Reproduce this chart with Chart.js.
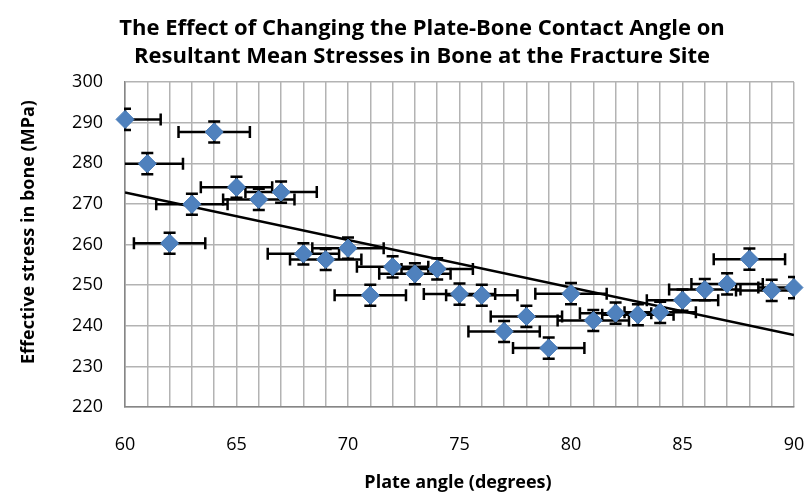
<!DOCTYPE html>
<html>
<head>
<meta charset="utf-8">
<script src="https://cdn.jsdelivr.net/npm/chart.js@4.4.1/dist/chart.umd.min.js"></script>
<style>
  html, body { margin: 0; padding: 0; background: #fff; }
  #wrap { width: 812px; height: 495px; }
</style>
</head>
<body>
<div id="wrap"><canvas id="c" width="812" height="495"></canvas></div>
<script>
// ---- data ----
const angles = [60, 61, 62, 63, 64, 65, 66, 67, 68, 69, 70, 71, 72, 73, 74, 75,
                76, 77, 78, 79, 80, 81, 82, 83, 84, 85, 86, 87, 88, 89, 90];
const stress = [290.8, 279.9, 260.3, 269.9, 287.7, 274.1, 271.1, 272.9, 257.7, 256.3, 259.1,
                247.5, 254.5, 252.8, 254.0, 247.8, 247.5, 238.6, 242.3, 234.5, 247.9,
                241.3, 243.1, 242.7, 243.3, 246.3, 248.9, 250.3, 256.4, 248.7, 249.4];
const angleErr = [1.6, 1.6, 1.6, 1.6, 1.6, 1.6, 1.6, 1.6, 1.6, 1.6, 1.6, 1.6, 1.6, 1.6, 1.6, 1.6,
                  1.6, 1.6, 1.6, 1.6, 1.6, 1.6, 1.6, 1.6, 1.6, 1.6, 1.6, 1.6, 1.6, 1.6, 1.6];
const stressErr = [2.6, 2.6, 2.6, 2.6, 2.6, 2.6, 2.6, 2.6, 2.6, 2.6, 2.6, 2.6, 2.6, 2.6, 2.6, 2.6,
                   2.6, 2.6, 2.6, 2.6, 2.6, 2.6, 2.6, 2.6, 2.6, 2.6, 2.6, 2.6, 2.6, 2.6, 2.6];
const trendAngles = [60, 90];
const trendStress = [272.8, 237.7];
const xTickLabels = ['60', '65', '70', '75', '80', '85', '90'];
const titleLines = ['The Effect of Changing the Plate-Bone Contact Angle on',
                    'Resultant Mean Stresses in Bone at the Fracture Site'];
const xTitle = 'Plate angle (degrees)';
const yTitle = 'Effective stress in bone (MPa)';

const FONT = '"Open Sans", "Liberation Sans", sans-serif';

const points = angles.map((a, i) => ({ x: a, y: stress[i] }));
const trend = trendAngles.map((a, i) => ({ x: a, y: trendStress[i] }));

const errorBars = {
  id: 'errorBars',
  afterDatasetsDraw(chart) {
    const { ctx, chartArea, scales: { x, y } } = chart;
    ctx.save();
    ctx.beginPath();
    ctx.rect(chartArea.left - 1, chartArea.top - 8, chartArea.right - chartArea.left + 2, chartArea.bottom - chartArea.top + 16);
    ctx.clip();
    ctx.strokeStyle = '#000';
    ctx.lineWidth = 2.5;
    const cap = 6;
    angles.forEach((a, i) => {
      const px = x.getPixelForValue(a), py = y.getPixelForValue(stress[i]);
      const xl = x.getPixelForValue(a - angleErr[i]), xr = x.getPixelForValue(a + angleErr[i]);
      const yt = y.getPixelForValue(stress[i] + stressErr[i]), yb = y.getPixelForValue(stress[i] - stressErr[i]);
      ctx.beginPath();
      const hl = Math.max(xl, chartArea.left), hr = Math.min(xr, chartArea.right);
      ctx.moveTo(hl, py); ctx.lineTo(hr, py);
      if (xl >= chartArea.left) { ctx.moveTo(xl, py - cap); ctx.lineTo(xl, py + cap); }
      if (xr <= chartArea.right) { ctx.moveTo(xr, py - cap); ctx.lineTo(xr, py + cap); }
      ctx.moveTo(px, yt); ctx.lineTo(px, yb);
      ctx.moveTo(px - cap, yt); ctx.lineTo(px + cap, yt);
      ctx.moveTo(px - cap, yb); ctx.lineTo(px + cap, yb);
      ctx.stroke();
    });
    ctx.restore();
    const meta = chart.getDatasetMeta(1);
    meta.data.forEach(el => el.draw(ctx, chartArea));
  }
};

const texts = {
  id: 'texts',
  afterDraw(chart) {
    const { ctx } = chart;
    ctx.save();
    ctx.fillStyle = '#000';
    ctx.textAlign = 'center';
    ctx.textBaseline = 'middle';
    ctx.font = 'bold 22px ' + FONT;
    ctx.fillText(titleLines[0], 422, 29);
    ctx.fillText(titleLines[1], 422, 57);
    ctx.font = 'bold 18px ' + FONT;
    ctx.fillText(xTitle, 458, 483);
    ctx.translate(29, 232);
    ctx.rotate(-Math.PI / 2);
    ctx.fillText(yTitle, 0, 0);
    ctx.restore();
  }
};

new Chart(document.getElementById('c'), {
  type: 'scatter',
  data: {
    datasets: [
      {
        label: 'Linear trend',
        data: trend,
        showLine: true,
        borderColor: '#000',
        borderWidth: 2.5,
        pointRadius: 0,
        fill: false,
        order: 2
      },
      {
        label: 'Mean stress',
        data: points,
        pointStyle: 'rectRot',
        pointRadius: 9,
        pointHoverRadius: 9,
        backgroundColor: '#4F81BD',
        borderColor: '#4F81BD',
        borderWidth: 1,
        order: 1
      }
    ]
  },
  options: {
    responsive: false,
    animation: false,
    events: [],
    layout: { padding: { top: 82, right: 0, left: 0, bottom: 0 } },
    plugins: { legend: { display: false }, tooltip: { enabled: false }, title: { display: false } },
    scales: {
      x: {
        type: 'linear',
        min: 60, max: 90,
        afterFit(s) { s.height = 88; s.paddingRight = 18; s.paddingLeft = 0; },
        border: { color: '#868686', width: 1.5 },
        grid: { color: '#B3B3B3', lineWidth: 1.5, drawTicks: false },
        ticks: {
          stepSize: 1, autoSkip: false, maxRotation: 0, padding: 27,
          color: '#000', font: { family: FONT, size: 18 },
          callback: v => xTickLabels.includes(String(v)) ? String(v) : ''
        }
      },
      y: {
        type: 'linear',
        min: 220, max: 300,
        afterFit(s) { s.width = 125; },
        border: { color: '#868686', width: 1.5 },
        grid: { color: '#B3B3B3', lineWidth: 1.5, drawTicks: false },
        ticks: {
          stepSize: 10, padding: 22,
          color: '#000', font: { family: FONT, size: 18 }
        }
      }
    }
  },
  plugins: [errorBars, texts]
});
</script>
</body>
</html>
